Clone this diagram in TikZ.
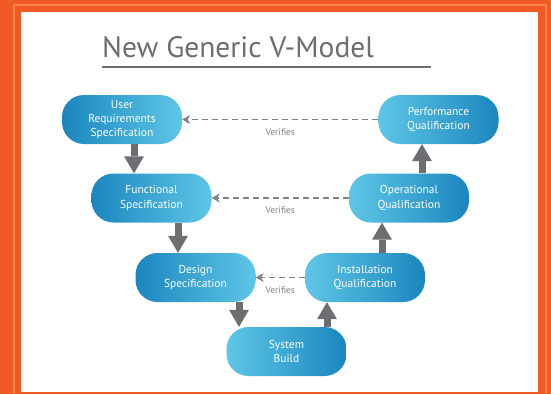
\documentclass[tikz,border=0pt]{standalone}
\usepackage{fontspec}
\setmainfont{PT Sans}
\usetikzlibrary{arrows.meta}

\definecolor{naranja}{HTML}{F15A24}
\definecolor{naranjaClaro}{HTML}{F6844F}
\definecolor{azulOscuro}{HTML}{1B86BF}
\definecolor{azulClaro}{HTML}{5EC6E6}
\definecolor{grisFlecha}{HTML}{6D6E71}
\definecolor{grisLinea}{HTML}{808285}

\begin{document}
\begin{tikzpicture}[x=1pt,y=-1pt,
    fase/.style={rounded corners=22pt, minimum width=120pt, minimum height=49pt,
        inner sep=0pt, text=white, align=center, font=\fontsize{11.5}{14.3}\selectfont},
    izq/.style={fase, left color=azulOscuro, right color=azulClaro},
    der/.style={fase, left color=azulClaro, right color=azulOscuro},
    bloque/.style={draw=grisFlecha, line width=7pt,
        -{Triangle[width=20pt,length=17pt,line width=0pt]}},
    verifica/.style={draw=grisLinea, line width=1.1pt, dash pattern=on 6pt off 4pt,
        -{Stealth[width=9pt,length=8pt]}},
    etiqueta/.style={text=grisLinea, font=\fontsize{9.5}{11}\selectfont}]

        % Marco naranja y fondo blanco
        \useasboundingbox (0,0) rectangle (551,394);
        \fill[naranja] (0,0) rectangle (551,394);
        \draw[naranjaClaro, line width=2pt] (14,394) -- (14,5) -- (546,5) -- (546,394);
        \fill[white] (21,12) rectangle (538,392);

        % Titulo
        \node[anchor=base west, inner sep=0pt, text=grisFlecha,
            font=\fontsize{29.5}{32}\selectfont] (titulo) at (102,57) {New Generic V-Model};
        \draw[grisFlecha, line width=2pt] (102,67) -- (431,67);

        % Rama izquierda
        \node[izq] (urs) at (122,119.5) {User\\Requirements\\Specification};
        \node[izq] (fs) at (151.5,198) {Functional\\Specification};
        \node[izq] (ds) at (195.5,277.5) {Design\\Specification};

        % Base
        \node[der] (sb) at (286.5,351.5) {System\\Build};

        % Rama derecha
        \node[der] (iq) at (365,277.5) {Installation\\Qualification};
        \node[der] (oq) at (409,198) {Operational\\Qualification};
        \node[der] (pq) at (438.5,119.5) {Performance\\Qualification};

        % Flechas gruesas
        \draw[bloque] ([xshift=12pt]urs.south) -- ([xshift=12pt]urs.south |- fs.north);
        \draw[bloque] ([xshift=26.5pt]fs.south) -- ([xshift=26.5pt]fs.south |- ds.north);
        \draw[bloque] ([xshift=43.5pt]ds.south) -- ([xshift=43.5pt]ds.south |- sb.north);
        \draw[bloque] ([xshift=40.5pt]sb.north) -- ([xshift=40.5pt]sb.north |- iq.south);
        \draw[bloque] ([xshift=17pt]iq.north) -- ([xshift=17pt]iq.north |- oq.south);
        \draw[bloque] ([xshift=13pt]oq.north) -- ([xshift=13pt]oq.north |- pq.south);

        % Verificaciones
        \draw[verifica] (pq.west) -- (urs.east) node[midway, below=5pt, etiqueta] {Verifies};
        \draw[verifica] (oq.west) -- (fs.east) node[midway, below=5pt, etiqueta] {Verifies};
        \draw[verifica] (iq.west) -- (ds.east) node[midway, below=5pt, etiqueta] {Verifies};
    \end{tikzpicture}
\end{document}
